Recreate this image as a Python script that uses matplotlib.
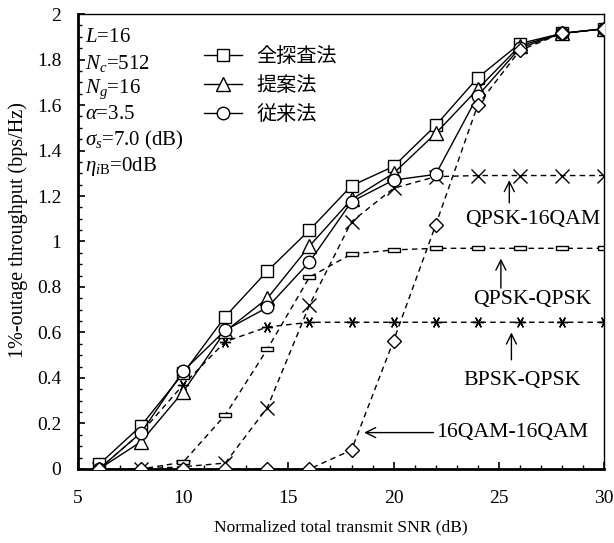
import matplotlib
matplotlib.use("Agg")
import matplotlib.pyplot as plt
from matplotlib.ticker import MultipleLocator

plt.rcParams['font.family'] = ['Liberation Serif', 'DejaVu Serif']
plt.rcParams['mathtext.fontset'] = 'custom'
plt.rcParams['mathtext.rm'] = 'Liberation Serif'
plt.rcParams['mathtext.it'] = 'Liberation Serif:italic'

snr = [6, 8, 10, 12, 14, 16, 18, 20, 22, 24, 26, 28, 30]

full_search = [0.02, 0.19, 0.42, 0.67, 0.87, 1.05, 1.245, 1.33, 1.51, 1.72, 1.87, 1.915, 1.935]
proposed    = [0.00, 0.12, 0.34, 0.605, 0.75, 0.98, 1.185, 1.30, 1.475, 1.67, 1.86, 1.915, 1.935]
conventional= [0.00, 0.16, 0.43, 0.61, 0.71, 0.91, 1.175, 1.27, 1.295, 1.64, 1.85, 1.915, 1.935]

qpsk_16qam  = [0.00, 0.00, 0.01, 0.026, 0.27, 0.72, 1.087, 1.234, 1.285, 1.29, 1.29, 1.29, 1.29]
bpsk_qpsk   = [0.00, 0.16, 0.37, 0.56, 0.624, 0.645, 0.645, 0.645, 0.645, 0.645, 0.645, 0.645, 0.645]
qpsk_qpsk   = [0.00, 0.00, 0.03, 0.237, 0.527, 0.843, 0.945, 0.963, 0.97, 0.97, 0.97, 0.97, 0.97]
qam16_16qam = [0.00, 0.00, 0.00, 0.00, 0.00, 0.00, 0.083, 0.564, 1.072, 1.60, 1.84, 1.915, 1.935]

legend_labels = ['全探査法', '提案法', '従来法']
param_lines = [r'$L$=16', r'$N_c$=512', r'$N_g$=16', r'$\alpha$=3.5',
               r'$\sigma_s$=7.0 (dB)', r'$\eta_{i\mathrm{B}}$=0dB']

fig = plt.figure(figsize=(6.14, 5.43), dpi=100)
ax = fig.add_axes([0.127, 0.1363, 0.8567, 0.8379])

dash = (0, (4, 3))
kw_d = dict(color='black', lw=1.0, linestyle=dash, mfc='white', mec='black')
rect = [(-1, -0.35), (1, -0.35), (1, 0.35), (-1, 0.35), (-1, -0.35)]
ax.plot(snr, qpsk_16qam, marker='x', ms=10, mew=1.0, **kw_d, zorder=2)
ax.plot(snr, bpsk_qpsk, marker=(6, 2, 90), ms=8, mew=1.0, **kw_d, zorder=2)
ax.plot(snr, qpsk_qpsk, marker=rect, ms=8, mew=1.0, markevery=slice(2, None), **kw_d, zorder=2)
ax.plot(snr, qam16_16qam, marker='D', ms=7, mew=1.0, **kw_d, zorder=4)

kw_s = dict(color='black', lw=1.0, linestyle='-', mfc='white', mec='black', mew=1.0)
l1, = ax.plot(snr, full_search, marker='s', ms=9, **kw_s, zorder=3, label=legend_labels[0])
l2, = ax.plot(snr, proposed, marker='^', ms=10, **kw_s, zorder=3, label=legend_labels[1])
l3, = ax.plot(snr, conventional, marker='o', ms=9, **kw_s, zorder=3, label=legend_labels[2])

ax.set_xlim(5, 30)
ax.set_ylim(0, 2)
ax.xaxis.set_major_locator(MultipleLocator(5))
ax.xaxis.set_minor_locator(MultipleLocator(1))
ax.yaxis.set_minor_locator(MultipleLocator(0.05))
ax.set_yticks([0, 0.2, 0.4, 0.6, 0.8, 1.0, 1.2, 1.4, 1.6, 1.8, 2.0])
ax.set_yticklabels(['0', '0.2', '0.4', '0.6', '0.8', '1', '1.2', '1.4', '1.6', '1.8', '2'])
ax.tick_params(axis='both', which='both', direction='in', top=False, right=False)
ax.tick_params(axis='both', which='major', length=5, width=1.2, labelsize=14)
ax.tick_params(axis='both', which='minor', length=3, width=1.0)
ax.tick_params(axis='y', which='major', pad=12)
ax.tick_params(axis='x', which='major', pad=15)

for s in ['left', 'bottom']:
    ax.spines[s].set_linewidth(2.0)
for s in ['top', 'right']:
    ax.spines[s].set_linewidth(1.0)

ax.set_xlabel('Normalized total transmit SNR (dB)', fontsize=12.5)
ax.set_ylabel('1%-outage throughput (bps/Hz)', fontsize=14.5)
ax.xaxis.set_label_coords(0.5, -0.11)
ax.yaxis.set_label_coords(-0.095, 0.525)

for i, t in enumerate(param_lines):
    ax.text(0.014, 0.949 - i * 0.0567, t, transform=ax.transAxes, fontsize=15,
            ha='left', va='center')

leg = ax.legend(handles=[l1, l2, l3], loc='upper left', bbox_to_anchor=(0.24, 0.93),
                frameon=False, handlelength=1.9, handletextpad=0.7, labelspacing=0.4,
                prop={'family': ['Noto Sans CJK JP', 'DejaVu Sans'], 'size': 14.5},
                borderaxespad=0, borderpad=0)

ap = dict(arrowstyle='->', color='black', lw=1.0, mutation_scale=18, shrinkA=0, shrinkB=0)
fs = 15.7
ax.annotate('', xy=(25.5, 1.27), xytext=(25.5, 1.17), arrowprops=ap)
ax.text(26.6, 1.095, 'QPSK-16QAM', fontsize=fs, ha='center', va='center')
ax.annotate('', xy=(25.1, 0.925), xytext=(25.1, 0.795), arrowprops=ap)
ax.text(26.6, 0.745, 'QPSK-QPSK', fontsize=fs, ha='center', va='center')
ax.annotate('', xy=(25.6, 0.60), xytext=(25.6, 0.48), arrowprops=ap)
ax.text(26.1, 0.39, 'BPSK-QPSK', fontsize=fs, ha='center', va='center')
ax.annotate('', xy=(18.6, 0.16), xytext=(21.9, 0.16), arrowprops=ap)
ax.text(22.0, 0.16, '16QAM-16QAM', fontsize=fs, ha='left', va='center')

fig.savefig('out.png', dpi=100)
